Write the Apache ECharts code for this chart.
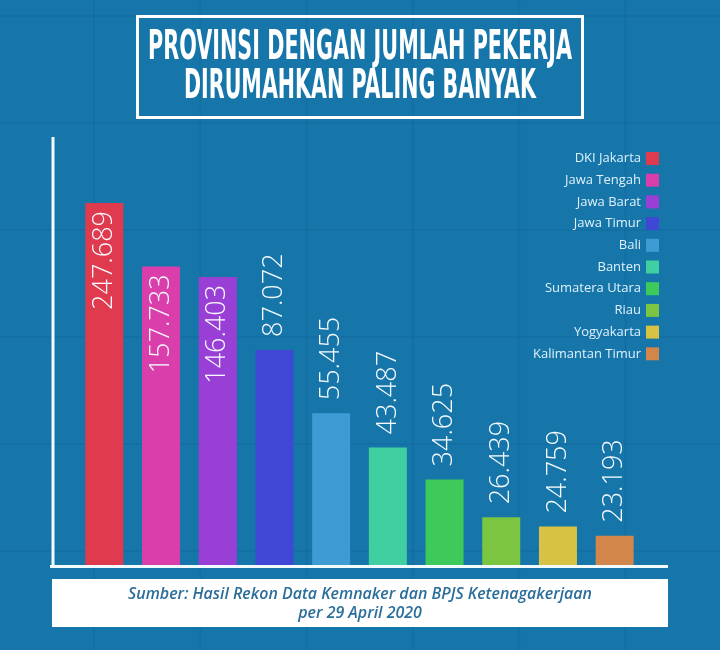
<!DOCTYPE html>
<html>
<head>
<meta charset="utf-8">
<script src="https://cdn.jsdelivr.net/npm/echarts@6/dist/echarts.min.js"></script>
<style>
html,body{margin:0;padding:0;background:#1676aa;}
#chart{width:720px;height:650px;}
</style>
</head>
<body>
<div id="chart"></div>
<script>
// ---- Data ----
const categories = ['DKI Jakarta','Jawa Tengah','Jawa Barat','Jawa Timur','Bali','Banten','Sumatera Utara','Riau','Yogyakarta','Kalimantan Timur'];
const values = [247689,157733,146403,87072,55455,43487,34625,26439,24759,23193];
const colors = ['#e03a4e','#d93eab','#9a3fd6','#3f47d4','#3f9bd3','#3fcfa1','#3dca5b','#7cc540','#d8c243','#d2864a'];
const titleLines = ['PROVINSI DENGAN JUMLAH PEKERJA','DIRUMAHKAN PALING BANYAK'];
const sourceLines = ['Sumber: Hasil Rekon Data Kemnaker dan BPJS Ketenagakerjaan','per 29 April 2020'];

function fmt(v){ return String(v).replace(/\B(?=(\d{3})+(?!\d))/g,'.'); }
const mctx = document.createElement('canvas').getContext('2d');
function fit(text, font, target){ mctx.font = font; return target / mctx.measureText(text).width; }

const chart = echarts.init(document.getElementById('chart'));

const titleFont = 'bold 40px "DejaVu Sans Condensed", "DejaVu Sans", sans-serif';
const srcFont = 'italic 600 16px "Open Sans", sans-serif';
const t1s = fit(titleLines[0], titleFont, 424);
const t2s = fit(titleLines[1], titleFont, 352);
const s1s = fit(sourceLines[0], srcFont, 464);

// decorative background grid pattern
const bg = [];
for (let k = -1; k <= 6; k++) {
  const x = 94 + 106.3 * k;
  bg.push({type:'line', z:0, silent:true, shape:{x1:x,y1:0,x2:x,y2:650}, style:{stroke:'rgba(0,45,85,0.07)', lineWidth:2}});
}
for (let k = 0; k <= 6; k++) {
  const y = 16 + 107 * k;
  bg.push({type:'line', z:0, silent:true, shape:{x1:0,y1:y,x2:720,y2:y}, style:{stroke:'rgba(0,45,85,0.07)', lineWidth:2}});
}

const series = categories.map((name, i) => {
  const data = categories.map((c, j) => j === i ? values[i] : null);
  const inside = values[i] > 100000;
  return {
    name: name,
    type: 'bar',
    barWidth: 38,
    barGap: '-100%',
    itemStyle: {color: colors[i]},
    label: {
      show: true,
      position: inside ? 'insideTop' : 'top',
      distance: inside ? 8 : 13,
      rotate: 90,
      align: inside ? 'right' : 'left',
      verticalAlign: 'middle',
      color: '#f7fbff',
      fontSize: 27,
      fontWeight: 300,
      fontFamily: '"Open Sans", "Noto Sans", sans-serif',
      formatter: p => fmt(p.value)
    },
    data: data
  };
});

chart.setOption({
  backgroundColor: '#1676aa',
  animation: false,
  grid: {left: 76, right: 77, top: 203, bottom: 84},
  xAxis: {
    type: 'category', data: categories,
    axisLine: {show: false}, axisTick: {show: false}, axisLabel: {show: false}, splitLine: {show: false}
  },
  yAxis: {
    type: 'log', min: 18700, max: 247689, startValue: 18700,
    axisLine: {show: false}, axisTick: {show: false}, axisLabel: {show: false}, splitLine: {show: false}
  },
  legend: {
    orient: 'vertical', right: 56, top: 147, align: 'right',
    itemWidth: 13, itemHeight: 13, itemGap: 8.7,
    icon: 'rect',
    textStyle: {color: '#dff1fc', fontSize: 13, fontFamily: '"Open Sans", "Noto Sans", sans-serif'},
    data: categories
  },
  graphic: bg.concat([
    {type:'rect', z:5, shape:{x:137.5,y:16.5,width:445,height:101}, style:{fill:'none', stroke:'#ffffff', lineWidth:3}},
    {type:'text', z:5, x:360, y:48.5, scaleX:t1s, style:{text:titleLines[0], font:titleFont, fill:'#ffffff', align:'center', verticalAlign:'middle'}},
    {type:'text', z:5, x:360, y:87.5, scaleX:t2s, style:{text:titleLines[1], font:titleFont, fill:'#ffffff', align:'center', verticalAlign:'middle'}},
    {type:'line', z:5, shape:{x1:53,y1:137,x2:53,y2:568}, style:{stroke:'#f2fbff', lineWidth:3}},
    {type:'line', z:5, shape:{x1:50,y1:566.5,x2:668,y2:566.5}, style:{stroke:'#f2fbff', lineWidth:3}},
    {type:'rect', z:5, shape:{x:52,y:579,width:616,height:48}, style:{fill:'#ffffff'}},
    {type:'text', z:6, x:360, y:594, scaleX:s1s, style:{text:sourceLines[0], font:srcFont, fill:'#2b6e9a', align:'center', verticalAlign:'middle'}},
    {type:'text', z:6, x:360, y:613, scaleX:s1s, style:{text:sourceLines[1], font:srcFont, fill:'#2b6e9a', align:'center', verticalAlign:'middle'}}
  ]),
  series: series
});
</script>
</body>
</html>
